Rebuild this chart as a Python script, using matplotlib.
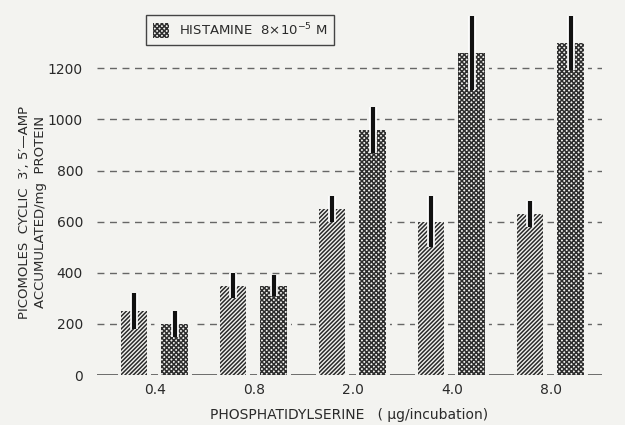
import matplotlib.pyplot as plt
import matplotlib.patheffects as pe
import numpy as np

# data
doses = ["0.4", "0.8", "2.0", "4.0", "8.0"]
control = [250, 350, 650, 600, 630]
control_err = [70, 50, 50, 100, 50]
histamine = [200, 350, 960, 1260, 1300]
histamine_err = [50, 40, 90, 145, 105]
yticks = [0, 200, 400, 600, 800, 1000, 1200]

plt.rcParams['font.family'] = ['DejaVu Sans']
ink = '#2a2a2a'
paper = '#f3f3f0'

fig = plt.figure(figsize=(6.25, 4.25), dpi=100, facecolor=paper)
ax = fig.add_axes([0.155, 0.1176, 0.808, 0.854], facecolor=paper)

x = np.arange(len(doses))
w = 0.27
off_c = -0.21
off_h = 0.2

for y in yticks[1:]:
    ax.axhline(y, color='#666666', lw=1.0, dashes=(5, 4), zorder=1)
ax.axhline(0, color='#555555', lw=1.2, zorder=1)

# background-coloured halo so grid lines stop short of the bars
ax.bar(x + off_c, control, w, color=paper, edgecolor=paper, lw=5, zorder=2)
ax.bar(x + off_h, histamine, w, color=paper, edgecolor=paper, lw=5, zorder=2)

plt.rcParams['hatch.linewidth'] = 1.1
b1 = ax.bar(x + off_c, control, w, color=paper, edgecolor='#2a2a2a', lw=0,
            hatch='////////', zorder=3)
plt.rcParams['hatch.linewidth'] = 1.1
b2 = ax.bar(x + off_h, histamine, w, color=paper, edgecolor='#2e2e2e', lw=0,
            hatch='xxxxxxx', zorder=3, label='HISTAMINE  8×10$^{-5}$ M')

halo = [pe.Stroke(linewidth=5.5, foreground='white'), pe.Normal()]
for xs, vals, errs in [(x + off_c, control, control_err), (x + off_h, histamine, histamine_err)]:
    for xi, v, e in zip(xs, vals, errs):
        ax.plot([xi, xi], [v - e, v + e], color='#111111', lw=3, solid_capstyle='butt',
                zorder=4, path_effects=halo)

ax.set_xlim(-0.586, 4.515)
ax.set_ylim(0, 1420)
ax.set_xticks(x)
ax.set_xticklabels(doses, fontsize=10, color=ink)
ax.set_yticks(yticks)
ax.set_yticklabels([str(t) for t in yticks], fontsize=10, color=ink)
ax.tick_params(length=0, pad=6)
ax.tick_params(axis='y', pad=10)
for s in ax.spines.values():
    s.set_visible(False)

ax.set_xlabel('PHOSPHATIDYLSERINE   ( μg/incubation)', fontsize=10, color=ink, labelpad=8)
fig.text(0.052, 0.5, 'PICOMOLES  CYCLIC  3′, 5′—AMP\nACCUMULATED/mg  PROTEIN',
         rotation=90, ha='center', va='center', fontsize=9.5, color=ink,
         linespacing=1.25, multialignment='center')

leg = ax.legend(handles=[b2], loc='upper left', bbox_to_anchor=(0.085, 1.01),
                fontsize=9.5, frameon=True, fancybox=False, edgecolor='#444444',
                facecolor=paper, framealpha=1, handlelength=1.2, handleheight=1.4,
                borderpad=0.5, labelcolor=ink)
leg.get_frame().set_linewidth(1.0)

fig.savefig('out.png', dpi=100, facecolor=paper)
